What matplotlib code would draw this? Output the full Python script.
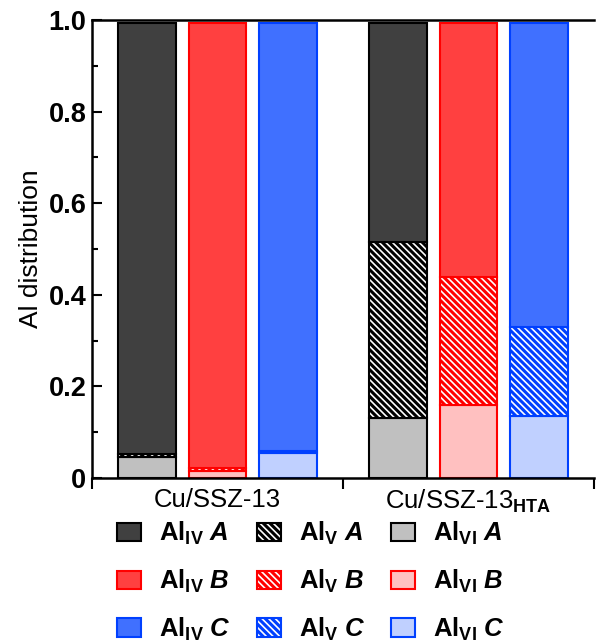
import numpy as np
import matplotlib
matplotlib.use("Agg")
import matplotlib.pyplot as plt
from matplotlib.patches import Patch

plt.rcParams['font.family'] = ['Liberation Sans', 'DejaVu Sans']
plt.rcParams['mathtext.fontset'] = 'custom'
plt.rcParams['mathtext.rm'] = 'Liberation Sans:bold'
plt.rcParams['mathtext.it'] = 'Liberation Sans:bold:italic'
plt.rcParams['mathtext.bf'] = 'Liberation Sans:bold'
plt.rcParams['hatch.linewidth'] = 2.2

# data: rows = sample A, B, C ; columns = catalyst
categories = ['Cu/SSZ-13', 'Cu/SSZ-13$_{\\rm HTA}$']
samples = ['A', 'B', 'C']
al_vi = [[0.045, 0.130],
         [0.016, 0.160],
         [0.055, 0.135]]
al_v = [[0.008, 0.385],
        [0.006, 0.278],
        [0.004, 0.195]]
al_iv = [[0.940, 0.478],
         [0.971, 0.555],
         [0.934, 0.663]]

# colours per sample
dark = ['#404040', '#ff4040', '#4070ff']
light = ['#c0c0c0', '#ffc0c0', '#c0d0ff']
edges = ['#000000', '#ff0000', '#0040ff']
hatch = '\\' * 5

fig = plt.figure(figsize=(5.96, 6.43), dpi=100)
ax = fig.add_axes([92/596, 1-478/643, 502/596, 458/643])

group_x = np.array([0.5, 1.5])
offsets = [-0.28, 0.0, 0.28]
width = 0.23

for i, s in enumerate(samples):
    x = group_x + offsets[i]
    vi = np.array(al_vi[i])
    v = np.array(al_v[i])
    iv = np.array(al_iv[i])
    ax.bar(x, vi, width, color=light[i], edgecolor=edges[i], linewidth=1.5)
    ax.bar(x, v, width, bottom=vi, color='white', edgecolor=edges[i],
           hatch=hatch, linewidth=1.5)
    ax.bar(x, iv, width, bottom=vi + v, color=dark[i], edgecolor=edges[i],
           linewidth=1.5)

ax.set_xlim(0, 2)
ax.set_ylim(0, 1.0)
ax.set_xticks(group_x)
ax.set_xticklabels(categories, fontsize=18.5)
ax.set_xticks([0, 1, 2], minor=True)
ax.tick_params(axis='x', which='major', length=0, pad=7)
ax.tick_params(axis='x', which='minor', length=8, width=1.5, direction='out')

ax.set_yticks([0, 0.2, 0.4, 0.6, 0.8, 1.0])
ax.set_yticklabels(['0', '0.2', '0.4', '0.6', '0.8', '1.0'],
                   fontsize=19.5, fontweight='bold')
ax.set_yticks(np.arange(0.1, 1.0, 0.2), minor=True)
ax.tick_params(axis='y', which='major', length=7, width=1.5, direction='in', pad=4)
ax.tick_params(axis='y', which='minor', length=4, width=1.5, direction='in')
ax.set_ylabel('Al distribution', fontsize=19, labelpad=4)

for side in ['left', 'bottom', 'top']:
    ax.spines[side].set_linewidth(1.8)
ax.spines['right'].set_visible(False)

# legend: columns = Al_IV, Al_V, Al_VI ; rows = samples
handles = []
labels = []
for kind in ['IV', 'V', 'VI']:
    for i, s in enumerate(samples):
        if kind == 'IV':
            h = Patch(facecolor=dark[i], edgecolor=edges[i], linewidth=1.5)
        elif kind == 'V':
            h = Patch(facecolor='white', edgecolor=edges[i], hatch=hatch, linewidth=1.5)
        else:
            h = Patch(facecolor=light[i], edgecolor=edges[i], linewidth=1.5)
        handles.append(h)
        labels.append('Al$_{\\rm %s}$ $\\it %s$' % (kind, s))

leg = fig.legend(handles, labels, ncol=3, loc='upper left',
                 bbox_to_anchor=(117/596, 1-520/643), frameon=False,
                 prop={'size': 18.5, 'weight': 'bold'},
                 handlelength=0.94, handleheight=0.72, handletextpad=0.7,
                 columnspacing=1.0, labelspacing=0.8, borderpad=0,
                 borderaxespad=0)

fig.savefig('out.png', dpi=100)
